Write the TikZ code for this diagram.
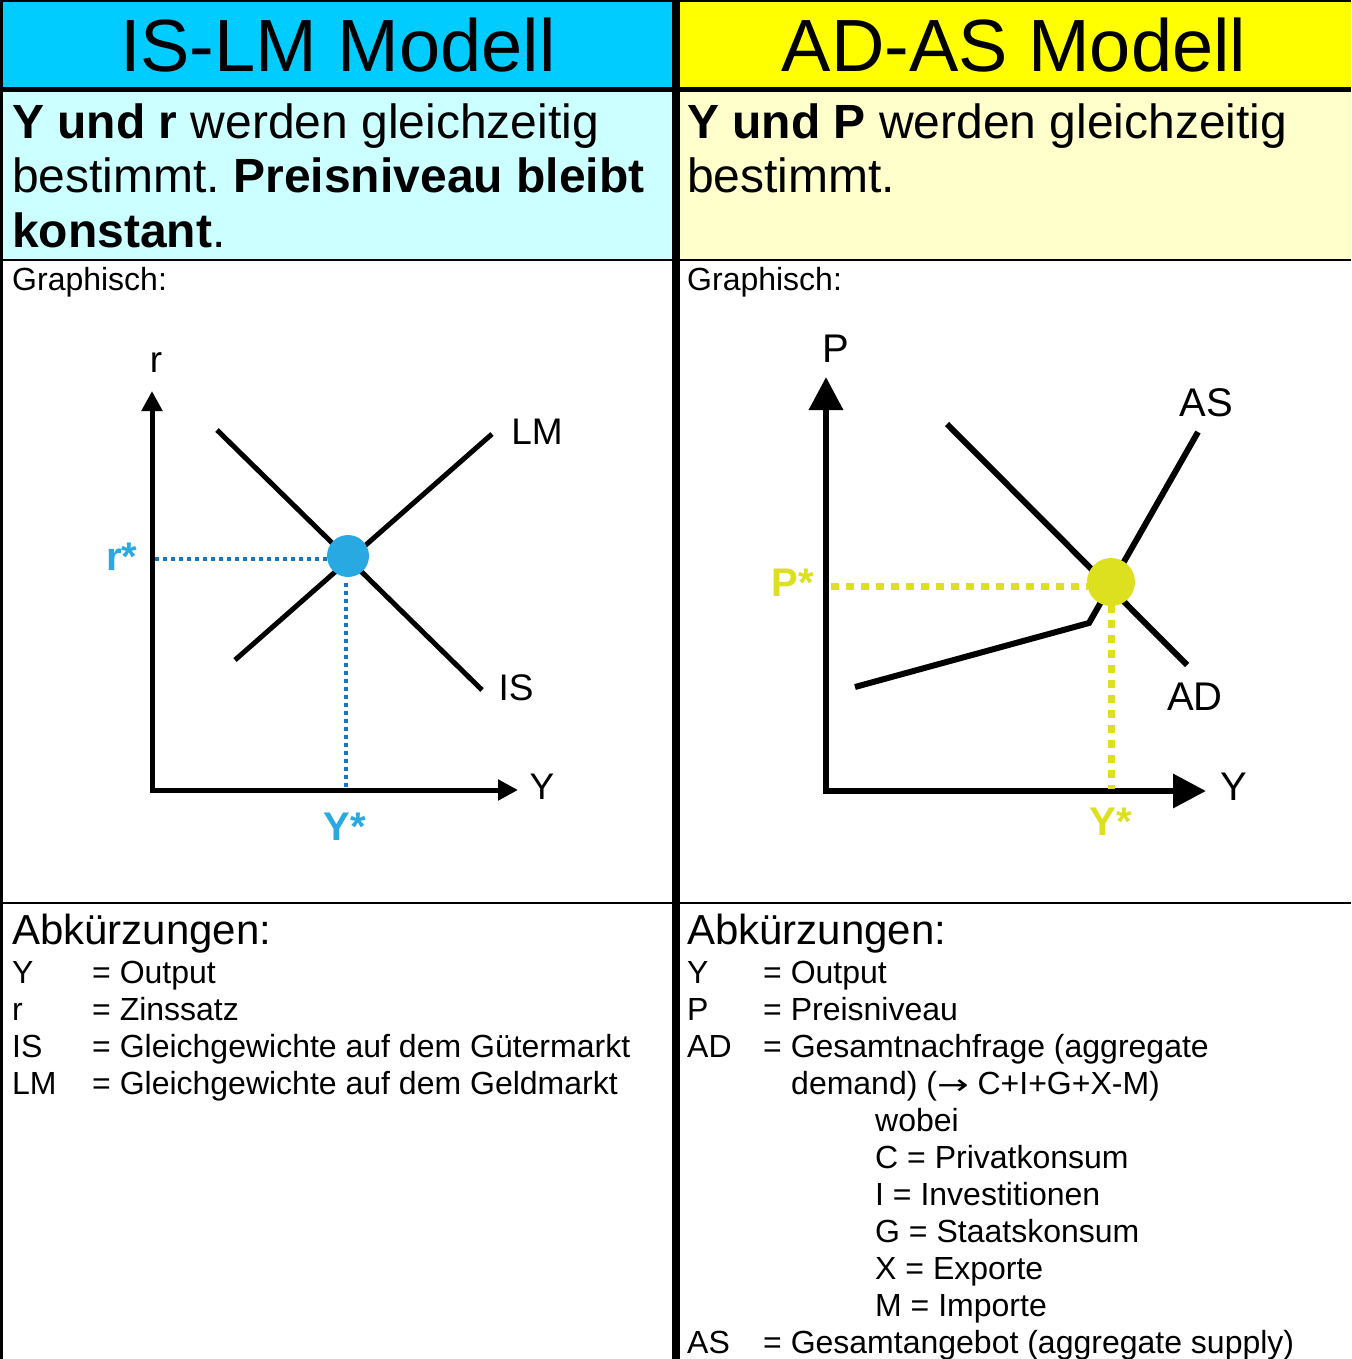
\documentclass[tikz,border=0pt]{standalone}
\usepackage{fontspec}
\usepackage{graphicx}
\setmainfont{Liberation Sans}
\newfontfamily\arrowfont{DejaVu Sans}
\usetikzlibrary{arrows.meta}

\definecolor{headblue}{HTML}{00CCFF}
\definecolor{headyellow}{HTML}{FFFF00}
\definecolor{paleblue}{HTML}{CCFFFF}
\definecolor{paleyellow}{HTML}{FFFFCC}
\definecolor{eqblue}{HTML}{29A9E1}
\definecolor{dotblue}{HTML}{1A75C4}
\definecolor{eqyellow}{HTML}{DCE01E}
\frenchspacing

\begin{document}
\begin{tikzpicture}[x=1pt,y=-1pt]
\tikzset{txt/.style = {anchor=base west, inner sep=0pt}}
\tikzset{head/.style = {anchor=base, inner sep=0pt, font=\fontsize{74}{80}\selectfont}}
\tikzset{desc/.style = {txt, font=\fontsize{48}{54}\selectfont}}
\tikzset{small/.style = {txt, font=\fontsize{32}{37}\selectfont}}
\tikzset{abk/.style = {txt, font=\fontsize{42}{48}\selectfont}}
\tikzset{lblL/.style = {inner sep=0pt, font=\fontsize{37}{42}\selectfont}}
\tikzset{lblR/.style = {inner sep=0pt, font=\fontsize{40}{46}\selectfont}}
\tikzset{star/.style = {inner sep=0pt, font=\fontsize{40}{46}\selectfont\bfseries}}
\tikzset{axisL/.style = {line width=5pt, -{Triangle[length=20pt,width=20pt]}}}
\tikzset{axisR/.style = {line width=6.5pt, -{Triangle[length=33pt,width=33pt]}}}
\tikzset{curveL/.style = {line width=5pt}}
\tikzset{curveR/.style = {line width=6pt}}
\tikzset{guideL/.style = {dotblue, line width=3.5pt, dash pattern=on 4pt off 4pt}}
\tikzset{guideR/.style = {eqyellow, line width=7pt, dash pattern=on 8pt off 7pt}}
\useasboundingbox (0,0) rectangle (1351,1359);
% table
\fill[headblue] (0,0) rectangle (676,89);
\fill[headyellow] (676,0) rectangle (1351,89);
\fill[paleblue] (0,89) rectangle (676,260);
\fill[paleyellow] (676,89) rectangle (1351,260);
\draw[line width=2pt] (0,1) -- (1351,1);
\draw[line width=3pt] (1.5,0) -- (1.5,1359);
\draw[line width=5pt] (0,89.5) -- (1351,89.5);
\draw[line width=1.5pt] (0,260) -- (1351,260);
\draw[line width=1.5pt] (0,903) -- (1351,903);
\draw[line width=8pt] (676,0) -- (676,1359);
% headings
\node[head] (headL) at (338,72) {IS-LM Modell};
\node[head] (headR) at (1014,72) {AD-AS Modell};
\node[desc] (descL1) at (12,139) {\textbf{Y und r} werden gleichzeitig};
\node[desc] (descL2) at (12,193) {bestimmt. \textbf{Preisniveau bleibt}};
\node[desc] (descL3) at (12,247) {\textbf{konstant}.};
\node[desc] (descR1) at (687,139) {\textbf{Y und P} werden gleichzeitig};
\node[desc] (descR2) at (687,193) {bestimmt.};
\node[small] (graphL) at (12,290) {Graphisch:};
\node[small] (graphR) at (687,290) {Graphisch:};
% IS-LM graph
\coordinate (oL) at (152,792.5);
\coordinate (oLx) at (149.5,790);
\coordinate (yL) at (152,391);
\coordinate (xL) at (518,790);
\coordinate (lm1) at (235,660);
\coordinate (lm2) at (492,434);
\coordinate (is1) at (217,430);
\coordinate (is2) at (482,690);
\coordinate (rs1) at (155,559);
\coordinate (rs2) at (327,559);
\coordinate (ys1) at (346,583);
\coordinate (ys2) at (346,789);
\draw[axisL] (oL) -- (yL);
\draw[axisL] (oLx) -- (xL);
\draw[curveL] (lm1) -- (lm2);
\draw[curveL] (is1) -- (is2);
\node[circle, fill=eqblue, minimum size=42pt, inner sep=0pt] (eqL) at (348,556) {};
\draw[guideL] (rs1) -- (rs2);
\draw[guideL] (ys1) -- (ys2);
\node[lblL] (rL) at (156,363) {r};
\node[lblL] (YL) at (542,787) {Y};
\node[lblL] (LM) at (537,432) {LM};
\node[lblL] (IS) at (516,688) {IS};
\node[star, eqblue] (rstar) at (122,557) {r*};
\node[star, eqblue] (YstarL) at (345,827) {Y*};
% AD-AS graph
\coordinate (oR) at (826,794);
\coordinate (oRx) at (822.75,791);
\coordinate (yR) at (826,377);
\coordinate (xR) at (1206,791);
\coordinate (ad1) at (947,424);
\coordinate (ad2) at (1187,665);
\coordinate (as1) at (855,687);
\coordinate (as2) at (1089,623);
\coordinate (as3) at (1198,432);
\coordinate (ps1) at (831,586);
\coordinate (ps2) at (1088,586);
\coordinate (ys3) at (1111,605);
\coordinate (ys4) at (1111,789);
\draw[axisR] (oR) -- (yR);
\draw[axisR] (oRx) -- (xR);
\draw[curveR] (ad1) -- (ad2);
\draw[curveR] (as1) -- (as2) -- (as3);
\node[circle, fill=eqyellow, minimum size=48pt, inner sep=0pt] (eqR) at (1111,582) {};
\draw[guideR] (ps1) -- (ps2);
\draw[guideR] (ys3) -- (ys4);
\node[lblR] (PR) at (836,349) {P};
\node[lblR] (YR) at (1234,787) {Y};
\node[lblR] (AS) at (1206,403) {AS};
\node[lblR] (AD) at (1195,697) {AD};
\node[star, eqyellow] (pstar) at (793,583) {P*};
\node[star, eqyellow] (YstarR) at (1111,822) {Y*};
% abbreviations
\node[abk] (abkL) at (12,944) {Abkürzungen:};
\node[small] (aL1) at (12,983) {\makebox[80pt][l]{Y}= Output};
\node[small] (aL2) at (12,1020) {\makebox[80pt][l]{r}= Zinssatz};
\node[small] (aL3) at (12,1057) {\makebox[80pt][l]{IS}= Gleichgewichte auf dem Gütermarkt};
\node[small] (aL4) at (12,1094) {\makebox[80pt][l]{LM}= Gleichgewichte auf dem Geldmarkt};
\node[abk] (abkR) at (687,944) {Abkürzungen:};
\node[small] (aR1) at (687,983) {\makebox[76pt][l]{Y}= Output};
\node[small] (aR2) at (687,1020) {\makebox[76pt][l]{P}= Preisniveau};
\node[small] (aR3) at (687,1057) {\makebox[76pt][l]{AD}= Gesamtnachfrage (aggregate};
\node[small] (aR4) at (791,1094) {demand) ({\arrowfont\fontsize{28}{37}\selectfont\scalebox{1.35}[1]{→}} C+I+G+X-M)};
\node[small] (aR5) at (875,1131) {wobei};
\node[small] (aR6) at (875,1168) {C = Privatkonsum};
\node[small] (aR7) at (875,1205) {I = Investitionen};
\node[small] (aR8) at (875,1242) {G = Staatskonsum};
\node[small] (aR9) at (875,1279) {X = Exporte};
\node[small] (aR10) at (875,1316) {M = Importe};
\node[small] (aR11) at (687,1353) {\makebox[76pt][l]{AS}= Gesamtangebot (aggregate supply)};
\end{tikzpicture}
\end{document}
